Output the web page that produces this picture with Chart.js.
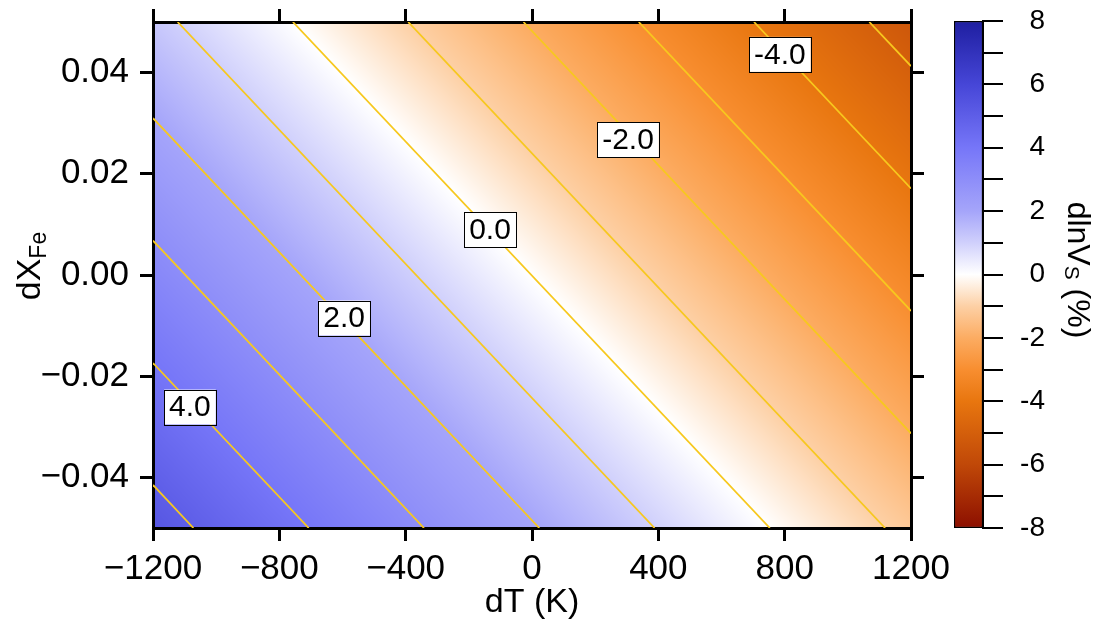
<!DOCTYPE html>
<html>
<head>
<meta charset="utf-8">
<script src="https://cdn.jsdelivr.net/npm/chart.js@4.4.1/dist/chart.umd.min.js"></script>
<style>
  body { margin: 0; background: #fff; }
  #wrap { position: relative; width: 1093px; height: 623px; }
  #main { position: absolute; left: 0; top: 0; }
  #bar { position: absolute; left: 940px; top: 0; }
</style>
</head>
<body>
<div id="wrap">
  <canvas id="main" width="1093" height="623"></canvas>
  <canvas id="bar" width="153" height="623"></canvas>
</div>
<script>
// dlnVs (%) at a coarse grid of dT (K) and dX_Fe
const dtGrid = [-1200, -800, -400, 0, 400, 800, 1200];
const dxGrid = [0.05, 0.025, 0, -0.025, -0.05];
const dlnvsGrid = [
  [1.21, 0.12, -0.98, -2.07, -3.17, -4.27, -5.36],
  [2.25, 1.15, 0.06, -1.04, -2.14, -3.23, -4.33],
  [3.28, 2.19, 1.09, -0.01, -1.10, -2.20, -3.29],
  [4.32, 3.22, 2.12, 1.03, -0.07, -1.16, -2.26],
  [5.35, 4.25, 3.16, 2.06, 0.97, -0.13, -1.22],
];

// contour lines: level, and where each one enters / leaves the frame
const contourLevels = [5, 4, 3, 2, 1, 0, -1, -2, -3, -4, -5];
const contourT0 = [-1200, -1200, -1200, -1200, -1122, -757, -392, -27, 338, 703, 1068];
const contourX0 = [-0.0415, -0.0174, 0.0068, 0.031, 0.05, 0.05, 0.05, 0.05, 0.05, 0.05, 0.05];
const contourT1 = [-1072, -707, -342, 23, 388, 753, 1118, 1200, 1200, 1200, 1200];
const contourX1 = [-0.05, -0.05, -0.05, -0.05, -0.05, -0.05, -0.05, -0.0313, -0.0071, 0.0171, 0.0413];

// contour labels
const labelText = ['4.0', '2.0', '0.0', '-2.0', '-4.0'];
const labelT = [-1083, -595, -133, 304, 785];
const labelX = [-0.0261, -0.0085, 0.0089, 0.0267, 0.0436];

const xTicks = [-1200, -800, -400, 0, 400, 800, 1200];
const yTicks = [-0.04, -0.02, 0, 0.02, 0.04];
const cbarTicks = [-8, -7, -6, -5, -4, -3, -2, -1, 0, 1, 2, 3, 4, 5, 6, 7, 8];

// colour scale (value -> rgb)
const cmapValues = [8, 6, 4, 2, 1, 0, -1, -2, -3, -4, -6, -8];
const cmapColors = [
  [30, 30, 160], [70, 70, 215], [118, 118, 248], [165, 165, 250], [208, 208, 252],
  [255, 255, 255], [253, 208, 165], [252, 172, 98], [248, 142, 48], [232, 118, 15],
  [192, 72, 8], [140, 15, 0],
];

const FONT = "'Liberation Sans', Arial, sans-serif";
const minus = (s) => s.replace('-', '\u2212');

function colorFor(v) {
  if (v >= cmapValues[0]) return cmapColors[0];
  for (let i = 0; i < cmapValues.length - 1; i++) {
    const a = cmapValues[i], b = cmapValues[i + 1];
    if (v <= a && v >= b) {
      const t = (a - v) / (a - b);
      const c0 = cmapColors[i], c1 = cmapColors[i + 1];
      return [c0[0] + (c1[0] - c0[0]) * t, c0[1] + (c1[1] - c0[1]) * t, c0[2] + (c1[2] - c0[2]) * t];
    }
  }
  return cmapColors[cmapColors.length - 1];
}

function sampleGrid(dt, dx) {
  let i = 0;
  while (i < dtGrid.length - 2 && dt > dtGrid[i + 1]) i++;
  let j = 0;
  while (j < dxGrid.length - 2 && dx < dxGrid[j + 1]) j++;
  const tx = (dt - dtGrid[i]) / (dtGrid[i + 1] - dtGrid[i]);
  const ty = (dx - dxGrid[j]) / (dxGrid[j + 1] - dxGrid[j]);
  const top = dlnvsGrid[j][i] * (1 - tx) + dlnvsGrid[j][i + 1] * tx;
  const bot = dlnvsGrid[j + 1][i] * (1 - tx) + dlnvsGrid[j + 1][i + 1] * tx;
  return top * (1 - ty) + bot * ty;
}

const heatmap = {
  id: 'heatmap',
  beforeDraw(chart) {
    const { ctx, chartArea: a, scales: { x, y } } = chart;
    const w = Math.round(a.right - a.left), h = Math.round(a.bottom - a.top);
    const img = ctx.createImageData(w, h);
    for (let j = 0; j < h; j++) {
      const dx = y.getValueForPixel(a.top + j + 0.5);
      for (let i = 0; i < w; i++) {
        const dt = x.getValueForPixel(a.left + i + 0.5);
        const c = colorFor(sampleGrid(dt, dx));
        const k = (j * w + i) * 4;
        img.data[k] = c[0];
        img.data[k + 1] = c[1];
        img.data[k + 2] = c[2];
        img.data[k + 3] = 255;
      }
    }
    ctx.putImageData(img, Math.round(a.left), Math.round(a.top));
  }
};

const contourLabels = {
  id: 'contourLabels',
  afterDatasetsDraw(chart) {
    const { ctx, scales: { x, y } } = chart;
    ctx.save();
    ctx.font = '30px ' + FONT;
    ctx.textAlign = 'center';
    ctx.textBaseline = 'middle';
    labelText.forEach((t, i) => {
      const px = x.getPixelForValue(labelT[i]);
      const py = y.getPixelForValue(labelX[i]);
      const bw = ctx.measureText(t).width + 10;
      const bh = 35;
      ctx.fillStyle = '#fff';
      ctx.fillRect(px - bw / 2, py - bh / 2, bw, bh);
      ctx.strokeStyle = '#000';
      ctx.lineWidth = 1;
      ctx.strokeRect(Math.round(px - bw / 2) + 0.5, Math.round(py - bh / 2) + 0.5, Math.round(bw), bh);
      ctx.fillStyle = '#000';
      ctx.fillText(t, px, py + 1);
    });
    ctx.restore();
  }
};

const yTitle = {
  id: 'yTitle',
  afterDraw(chart) {
    const ctx = chart.ctx;
    ctx.save();
    ctx.translate(31, 266);
    ctx.rotate(-Math.PI / 2);
    ctx.fillStyle = '#000';
    ctx.textBaseline = 'middle';
    ctx.font = '34px ' + FONT;
    const w1 = ctx.measureText('dX').width;
    ctx.font = '23px ' + FONT;
    const w2 = ctx.measureText('Fe').width;
    const x0 = -(w1 + w2) / 2;
    ctx.font = '34px ' + FONT;
    ctx.fillText('dX', x0, 0);
    ctx.font = '23px ' + FONT;
    ctx.fillText('Fe', x0 + w1, 9);
    ctx.restore();
  }
};

const cbarTitle = {
  id: 'cbarTitle',
  afterDraw(chart) {
    const ctx = chart.ctx;
    ctx.save();
    ctx.translate(137, 270);
    ctx.rotate(Math.PI / 2);
    ctx.fillStyle = '#000';
    ctx.textBaseline = 'middle';
    const parts = [['dlnV', 32, 0], ['S', 21, 6], [' (%)', 32, 0]];
    let total = 0;
    parts.forEach(p => { ctx.font = p[1] + 'px ' + FONT; total += ctx.measureText(p[0]).width; });
    let cx = -total / 2;
    parts.forEach(p => {
      ctx.font = p[1] + 'px ' + FONT;
      ctx.fillText(p[0], cx, p[2]);
      cx += ctx.measureText(p[0]).width;
    });
    ctx.restore();
  }
};

// no label overhang padding, so the frame lands where the layout says
function noPad(s) {
  s.paddingTop = 0;
  s.paddingBottom = 0;
  s.paddingLeft = 0;
  s.paddingRight = 0;
}

const frameGrid = { drawOnChartArea: false, color: '#000', lineWidth: 3, tickLength: 13 };
const frameBorder = { color: '#000', width: 3 };

const datasets = contourLevels.map((lv, i) => ({
  label: 'c' + lv,
  data: [{ x: contourT0[i], y: contourX0[i] }, { x: contourT1[i], y: contourX1[i] }],
  showLine: true,
  borderColor: '#f7c81e',
  borderWidth: 1.8,
  pointRadius: 0,
}));

new Chart(document.getElementById('main'), {
  type: 'scatter',
  data: { datasets },
  options: {
    responsive: false,
    animation: false,
    layout: { padding: { left: 0, top: 0, right: 170, bottom: 0 } },
    plugins: { legend: { display: false }, tooltip: { enabled: false } },
    scales: {
      x: {
        type: 'linear', position: 'bottom', min: -1200, max: 1200, z: 1,
        afterBuildTicks: s => { s.ticks = xTicks.map(v => ({ value: v })); },
        afterFit: s => { s.height = 95; noPad(s); },
        ticks: { color: '#000', font: { family: FONT, size: 35 }, padding: 7, autoSkip: false, maxRotation: 0,
          callback: v => minus(String(v)) },
        grid: frameGrid,
        border: frameBorder,
        title: { display: true, text: 'dT (K)', color: '#000', font: { family: FONT, size: 34 }, padding: 0 }
      },
      x2: {
        type: 'linear', position: 'top', min: -1200, max: 1200, z: 1,
        afterBuildTicks: s => { s.ticks = xTicks.map(v => ({ value: v })); },
        afterFit: s => { s.height = 22; noPad(s); },
        ticks: { display: false },
        grid: frameGrid,
        border: frameBorder
      },
      y: {
        type: 'linear', position: 'left', min: -0.05, max: 0.05, z: 1,
        afterBuildTicks: s => { s.ticks = yTicks.map(v => ({ value: v })); },
        afterFit: s => { s.width = 153; noPad(s); },
        ticks: { color: '#000', font: { family: FONT, size: 35 }, padding: 11, autoSkip: false,
          callback: v => minus(v.toFixed(2)) },
        grid: frameGrid,
        border: frameBorder
      },
      y2: {
        type: 'linear', position: 'right', min: -0.05, max: 0.05, z: 1,
        afterBuildTicks: s => { s.ticks = yTicks.map(v => ({ value: v })); },
        afterFit: s => { s.width = 12; noPad(s); },
        ticks: { display: false },
        grid: frameGrid,
        border: frameBorder
      }
    }
  },
  plugins: [heatmap, contourLabels, yTitle]
});

function cbarFill(c) {
  const chart = c.chart;
  if (!chart.chartArea) return '#fff';
  const y = chart.scales.y;
  const g = chart.ctx.createLinearGradient(0, y.getPixelForValue(8), 0, y.getPixelForValue(-8));
  cmapValues.forEach((v, i) => {
    const col = cmapColors[i];
    g.addColorStop((8 - v) / 16, 'rgb(' + col.join(',') + ')');
  });
  return g;
}

new Chart(document.getElementById('bar'), {
  type: 'bar',
  data: {
    labels: ['dlnVs'],
    datasets: [{
      data: [[-8, 8]],
      backgroundColor: cbarFill,
      borderColor: '#000',
      borderWidth: 1.5,
      borderSkipped: false,
      barPercentage: 1,
      categoryPercentage: 1
    }]
  },
  options: {
    responsive: false,
    animation: false,
    layout: { padding: { left: 14, top: 21, right: 48, bottom: 95 } },
    plugins: { legend: { display: false }, tooltip: { enabled: false } },
    scales: {
      x: { display: false },
      y: {
        position: 'right', min: -8, max: 8,
        afterBuildTicks: s => { s.ticks = cbarTicks.map(v => ({ value: v })); },
        afterFit: s => { s.width = 62; noPad(s); },
        ticks: { color: '#000', font: { family: FONT, size: 28 }, padding: 14, crossAlign: 'far', autoSkip: false,
          callback: v => (v % 2 === 0 ? String(v) : '') },
        grid: { drawOnChartArea: false, color: '#000', lineWidth: 2, tickLength: 20 },
        border: { color: '#000', width: 2 }
      }
    }
  },
  plugins: [cbarTitle]
});
</script>
</body>
</html>
